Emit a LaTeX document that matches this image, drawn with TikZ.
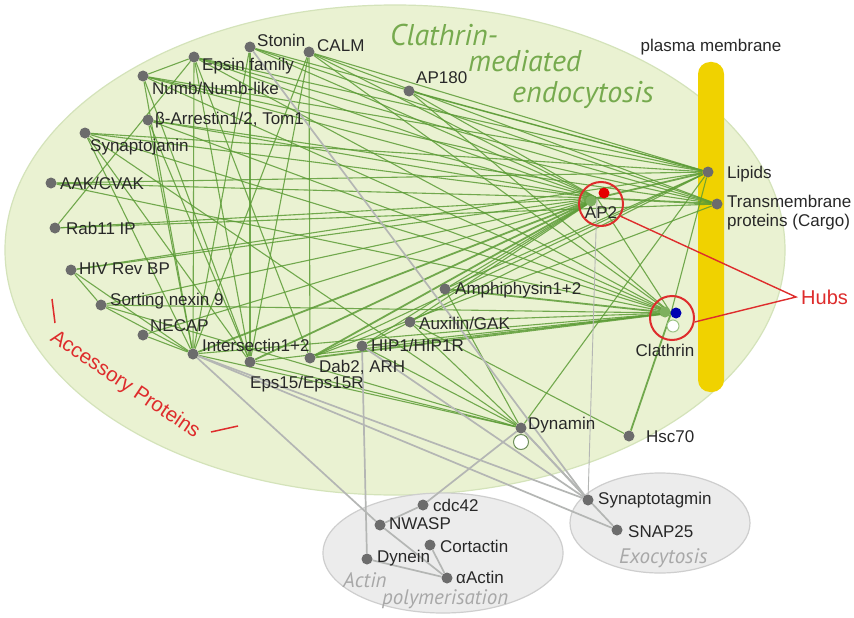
\documentclass[tikz,border=0pt]{standalone}
\usepackage{fontspec}
\setmainfont{Liberation Sans}
\newfontfamily\titlefont{PT Sans}
\usetikzlibrary{backgrounds}
\definecolor{cellfill}{RGB}{234,242,210}
\definecolor{celledge}{RGB}{212,227,186}
\definecolor{greybg}{RGB}{236,236,236}
\definecolor{greyline}{RGB}{206,206,206}
\definecolor{edgegreen}{RGB}{92,156,54}
\definecolor{edgegrey}{RGB}{180,182,180}
\definecolor{dotgrey}{RGB}{108,108,108}
\definecolor{membrane}{RGB}{240,210,0}
\definecolor{hubred}{RGB}{222,44,44}
\definecolor{titlegreen}{RGB}{118,170,78}
\definecolor{boxtext}{RGB}{168,168,168}
\definecolor{labtext}{RGB}{40,40,40}
\pgfdeclarelayer{back}
\pgfdeclarelayer{edges}
\pgfsetlayers{back,edges,main}
\tikzset{
  dot/.style={circle, fill=dotgrey, inner sep=0pt, minimum size=11pt},
  lab/.style={font=\fontsize{17}{19}\selectfont, text=labtext, inner sep=0pt, anchor=west},
  gedge/.style={draw=edgegreen, line width=1.1pt, opacity=0.85},
  gstrong/.style={draw=edgegreen, line width=1.8pt, opacity=0.85},
  xedge/.style={draw=edgegrey, line width=1.7pt},
  xthin/.style={draw=edgegrey, line width=0.9pt},
  hubring/.style={circle, draw=hubred, line width=2pt, minimum size=44pt, inner sep=0pt},
  boxlabel/.style={font=\titlefont\itshape\fontsize{21}{22}\selectfont, text=boxtext, inner sep=0pt, anchor=base west},
  titlelabel/.style={font=\titlefont\itshape\fontsize{30}{31}\selectfont, text=titlegreen, inner sep=0pt, anchor=base west}
}
\begin{document}
\begin{tikzpicture}[x=1pt,y=-1pt]
\useasboundingbox (0,0) rectangle (854,618);

% compartments
\begin{pgfonlayer}{back}
  \fill[white] (0,0) rectangle (854,618);
  \draw[fill=cellfill, draw=celledge, line width=1.2pt] (395,250) ellipse [x radius=390, y radius=245];
  \draw[fill=greybg, draw=greyline, line width=1.2pt] (443,553) ellipse [x radius=120, y radius=60];
  \draw[fill=greybg, draw=greyline, line width=1.2pt] (660,523) ellipse [x radius=90, y radius=50];
  \fill[membrane, rounded corners=12pt] (698,62) rectangle (724,392);
\end{pgfonlayer}

% proteins
\node[dot] (stonin) at (250,47) {};
\node[dot] (calm)   at (309,52) {};
\node[dot] (epsin)  at (194,57) {};
\node[dot] (numb)   at (143,76) {};
\node[dot] (ap180)  at (409,91) {};
\node[dot] (barr)   at (148,120) {};
\node[dot] (synj)   at (85,133) {};
\node[dot] (aak)    at (51,183) {};
\node[dot] (rab)    at (55,228) {};
\node[dot] (hiv)    at (71,270) {};
\node[dot] (snx)    at (101,305) {};
\node[dot] (necap)  at (143,335) {};
\node[dot] (itsn)   at (193,354) {};
\node[dot] (eps)    at (250,362) {};
\node[dot] (dab)    at (310,358) {};
\node[dot] (hip)    at (362,346) {};
\node[dot] (aux)    at (410,322) {};
\node[dot] (amph)   at (445,289) {};
\node[dot] (lip)    at (708,172) {};
\node[dot] (tm)     at (717,204) {};
\node[dot] (dyn)    at (521,428) {};
\node[dot] (hsc)    at (629,436) {};
\node[dot] (syt)    at (588,500) {};
\node[dot] (snap)   at (617,530) {};
\node[dot] (cdc)    at (423,505) {};
\node[dot] (nwasp)  at (380,525) {};
\node[dot] (cort)   at (430,545) {};
\node[dot] (dynein) at (367,559) {};
\node[dot] (actin)  at (447,578) {};

% hubs
\node[inner sep=0pt, minimum size=0pt] (ap2) at (597,198) {};
\node[inner sep=0pt, minimum size=0pt] (clat) at (671,313) {};
\node[circle, fill=edgegreen!80, inner sep=0pt, minimum size=11pt] (ap2g) at (591,201) {};
\node[circle, fill=red!90!black, inner sep=0pt, minimum size=11pt] (ap2r) at (604,193) {};
\node[circle, fill=edgegreen!80, inner sep=0pt, minimum size=11pt] (clatg) at (665,312) {};
\node[circle, draw=edgegreen!60, fill=white, line width=1pt, inner sep=0pt, minimum size=12pt] (clato) at (673,326) {};
\node[circle, fill=blue!70!black, inner sep=0pt, minimum size=11pt] (clatb) at (676,313) {};
\node[circle, draw=edgegreen!50!gray, fill=white, line width=1pt, inner sep=0pt, minimum size=15pt] (dyno) at (521,442) {};
\node[hubring] (ap2ring) at (601,204) {};
\node[hubring] (clatring) at (672,318) {};

% interactions
\begin{pgfonlayer}{edges}
  \foreach \a in {stonin,calm,epsin,numb,ap180,barr,synj,aak,rab,hiv,snx,necap,hip,aux,amph,clat}
    \draw[gedge] (\a) -- (ap2);
  \foreach \a in {itsn,eps,dab,lip,tm}
    \draw[gstrong] (\a) -- (ap2);
  \foreach \a in {calm,ap180,epsin,barr,synj,aak,snx,itsn,eps,hip,aux,numb}
    \draw[gedge] (\a) -- (clat);
  \foreach \a in {dab,amph,hsc}
    \draw[gstrong] (\a) -- (clat);
  \foreach \a in {calm,ap180,epsin,synj,numb,dab,hip,amph,dyn,clat,aak,hiv,stonin}
    \draw[gedge] (\a) -- (lip);
  \foreach \a in {barr,numb,dab,epsin,stonin,rab,calm}
    \draw[gedge] (\a) -- (tm);
  \foreach \a in {amph,itsn,synj,snx,hip,aux,eps}
    \draw[gedge] (\a) -- (dyn);
  \foreach \a/\b in {aux/hsc,epsin/itsn,stonin/eps,epsin/rab,numb/itsn,numb/eps,
                     calm/itsn,calm/eps,synj/itsn,barr/eps,hiv/itsn,snx/itsn,
                     necap/itsn,synj/eps,epsin/eps,stonin/itsn,hiv/snx,epsin/dab,
                     calm/dab,barr/itsn,numb/epsin}
    \draw[gedge] (\a) -- (\b);
  \foreach \a/\b in {stonin/syt,itsn/nwasp,itsn/snap,itsn/syt,hip/dynein,hip/syt,
                     dyn/cdc,dyn/syt,dyn/snap,nwasp/cdc,nwasp/actin,dynein/actin,cort/actin}
    \draw[xedge] (\a) -- (\b);
  \draw[xthin] (ap2) -- (syt);
\end{pgfonlayer}

% hub pointer
\coordinate (hubtip) at (796,297);
\draw[hubred, line width=1.4pt] (ap2ring.-32) -- (hubtip) -- (clatring.-10);
\node[font=\fontsize{20}{22}\selectfont, text=hubred, anchor=west, inner sep=0pt] (hubs) at (801,297) {Hubs};

% protein names
\node[lab] (l-stonin) at (257,40) {Stonin};
\node[lab] (l-calm) at (317,46) {CALM};
\node[lab] (l-epsin) at (202,66) {Epsin family};
\node[lab] (l-numb) at (152,88) {Numb/Numb-like};
\node[lab] (l-ap180) at (416,78) {AP180};
\node[lab] (l-barr) at (155,120) {β-Arrestin1/2, Tom1};
\node[lab] (l-synj) at (90,147) {Synaptojanin};
\node[lab] (l-aak) at (60,183) {AAK/CVAK};
\node[lab] (l-rab) at (66,228) {Rab11 IP};
\node[lab] (l-hiv) at (79,269) {HIV Rev BP};
\node[lab] (l-snx) at (110,301) {Sorting nexin 9};
\node[lab] (l-necap) at (150,326) {NECAP};
\node[lab] (l-itsn) at (202,345) {Intersectin1+2};
\node[lab] (l-eps) at (250,384) {Eps15/Eps15R};
\node[lab] (l-dab) at (319,367) {Dab2, ARH};
\node[lab] (l-hip) at (371,345) {HIP1/HIP1R};
\node[lab] (l-aux) at (419,323) {Auxilin/GAK};
\node[lab] (l-amph) at (455,290) {Amphiphysin1+2};
\node[lab, anchor=center] (l-ap2) at (601,213) {AP2};
\node[lab, anchor=center] (l-clat) at (665,350) {Clathrin};
\node[lab] (l-lip) at (727,174) {Lipids};
\node[lab, align=left] (l-tm) at (727,213) {Transmembrane\\proteins (Cargo)};
\node[lab] (l-dyn) at (528,425) {Dynamin};
\node[lab] (l-hsc) at (646,437) {Hsc70};
\node[lab] (l-syt) at (598,500) {Synaptotagmin};
\node[lab] (l-snap) at (628,532) {SNAP25};
\node[lab] (l-cdc) at (433,505) {cdc42};
\node[lab] (l-nwasp) at (389,524) {NWASP};
\node[lab] (l-cort) at (440,546) {Cortactin};
\node[lab] (l-dynein) at (377,558) {Dynein};
\node[lab] (l-actin) at (456,577) {αActin};
\node[lab, anchor=center] (l-pm) at (711,47) {plasma membrane};

% compartment titles
\node[titlelabel] (t1) at (390,46) {Clathrin-};
\node[titlelabel] (t2) at (468,72) {mediated};
\node[titlelabel] (t3) at (512,102) {endocytosis};
\node[boxlabel] (b1) at (343,587) {Actin};
\node[boxlabel] (b2) at (382,604) {polymerisation};
\node[boxlabel] (b3) at (619,563) {Exocytosis};

% accessory proteins label
\node[font=\fontsize{20.5}{22}\selectfont, text=hubred, rotate=-34, inner sep=0pt] (acc) at (125,385) {Accessory Proteins};
\draw[hubred, line width=1.5pt] (52,299) -- (55,323);
\draw[hubred, line width=1.5pt] (211,432) -- (238,426);
\end{tikzpicture}
\end{document}
